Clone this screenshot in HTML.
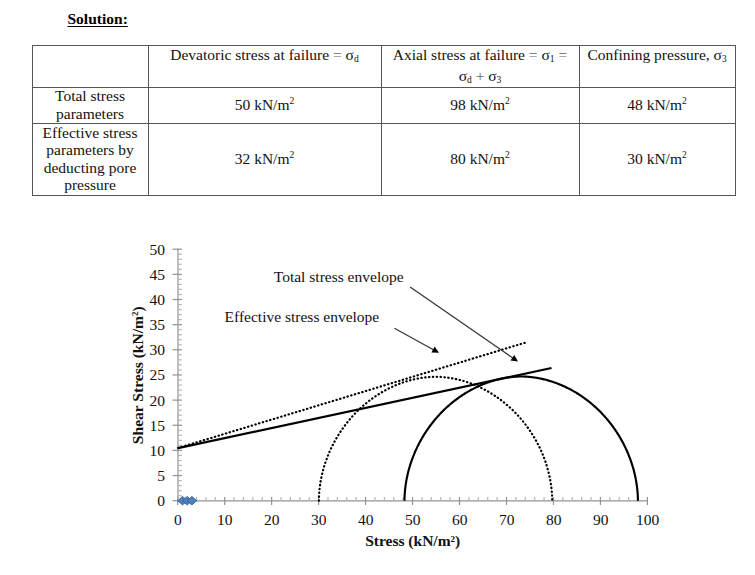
<!DOCTYPE html>
<html><head><meta charset="utf-8"><style>
html,body{margin:0;padding:0;background:#fff;width:755px;height:575px;overflow:hidden;position:relative}
.vl{position:absolute;width:1px;background:#555}
.hl{position:absolute;height:1px;background:#555}
.eq{color:#666}
.t{position:absolute;text-align:center;font-family:"Liberation Serif",serif;font-size:15.5px;line-height:18px;white-space:nowrap;color:#111;transform:scaleX(1.0)}
sub{font-size:9.5px;vertical-align:baseline;position:relative;top:2.5px}
sup{font-size:9.5px;vertical-align:baseline;position:relative;top:-6.3px}
.sol{position:absolute;left:67.5px;top:10px;font-family:"Liberation Serif",serif;font-weight:bold;font-size:15.5px;line-height:18px;text-decoration:underline;text-decoration-thickness:1.3px;text-underline-offset:1.8px;transform:scaleX(1.0);transform-origin:0 0}
</style></head><body>
<div class="sol">Solution:</div>
<div class="vl" style="left:32px;top:45px;height:151px"></div><div class="vl" style="left:148px;top:45px;height:151px"></div><div class="vl" style="left:381px;top:45px;height:151px"></div><div class="vl" style="left:579px;top:45px;height:151px"></div><div class="vl" style="left:735px;top:45px;height:151px"></div><div class="hl" style="left:32px;top:45px;width:704px"></div><div class="hl" style="left:32px;top:87px;width:704px"></div><div class="hl" style="left:32px;top:123px;width:704px"></div><div class="hl" style="left:32px;top:195px;width:704px"></div>
<div class="t" style="left:148px;width:233px;top:45.9px">Devatoric stress at failure <span class="eq">=</span> <span class="sg">σ</span><sub>d</sub></div><div class="t" style="left:381px;width:198px;top:45.7px">Axial stress at failure <span class="eq">=</span> <span class="sg">σ</span><sub>1</sub> <span class="eq">=</span></div><div class="t" style="left:381px;width:198px;top:66.6px"><span class="sg">σ</span><sub>d</sub> <span class="eq">+</span> <span class="sg">σ</span><sub>3</sub></div><div class="t" style="left:579px;width:156px;top:45.7px">Confining pressure, <span class="sg">σ</span><sub>3</sub></div><div class="t" style="left:32px;width:116px;top:86.9px">Total stress</div><div class="t" style="left:32px;width:116px;top:104.9px">parameters</div><div class="t" style="left:148px;width:233px;top:95.9px">50 kN/m<sup>2</sup></div><div class="t" style="left:381px;width:198px;top:95.9px">98 kN/m<sup>2</sup></div><div class="t" style="left:579px;width:156px;top:95.9px">48 kN/m<sup>2</sup></div><div class="t" style="left:32px;width:116px;top:123.6px">Effective stress</div><div class="t" style="left:32px;width:116px;top:141.2px">parameters by</div><div class="t" style="left:32px;width:116px;top:158.7px">deducting pore</div><div class="t" style="left:32px;width:116px;top:176.3px">pressure</div><div class="t" style="left:148px;width:233px;top:150.3px">32 kN/m<sup>2</sup></div><div class="t" style="left:381px;width:198px;top:150.3px">80 kN/m<sup>2</sup></div><div class="t" style="left:579px;width:156px;top:150.3px">30 kN/m<sup>2</sup></div>
<svg width="755" height="575" style="position:absolute;left:0;top:0"><g stroke="#939393" stroke-width="1.2"><line x1="178" y1="248.70" x2="178" y2="501.20" /><line x1="172.5" y1="500.70" x2="182" y2="500.70" /><line x1="178.6" y1="495.67" x2="181.8" y2="495.67" stroke="#b4b4b4" /><line x1="178.6" y1="490.64" x2="181.8" y2="490.64" stroke="#b4b4b4" /><line x1="178.6" y1="485.61" x2="181.8" y2="485.61" stroke="#b4b4b4" /><line x1="178.6" y1="480.58" x2="181.8" y2="480.58" stroke="#b4b4b4" /><line x1="172.5" y1="475.55" x2="182" y2="475.55" /><line x1="178.6" y1="470.52" x2="181.8" y2="470.52" stroke="#b4b4b4" /><line x1="178.6" y1="465.49" x2="181.8" y2="465.49" stroke="#b4b4b4" /><line x1="178.6" y1="460.46" x2="181.8" y2="460.46" stroke="#b4b4b4" /><line x1="178.6" y1="455.43" x2="181.8" y2="455.43" stroke="#b4b4b4" /><line x1="172.5" y1="450.40" x2="182" y2="450.40" /><line x1="178.6" y1="445.37" x2="181.8" y2="445.37" stroke="#b4b4b4" /><line x1="178.6" y1="440.34" x2="181.8" y2="440.34" stroke="#b4b4b4" /><line x1="178.6" y1="435.31" x2="181.8" y2="435.31" stroke="#b4b4b4" /><line x1="178.6" y1="430.28" x2="181.8" y2="430.28" stroke="#b4b4b4" /><line x1="172.5" y1="425.25" x2="182" y2="425.25" /><line x1="178.6" y1="420.22" x2="181.8" y2="420.22" stroke="#b4b4b4" /><line x1="178.6" y1="415.19" x2="181.8" y2="415.19" stroke="#b4b4b4" /><line x1="178.6" y1="410.16" x2="181.8" y2="410.16" stroke="#b4b4b4" /><line x1="178.6" y1="405.13" x2="181.8" y2="405.13" stroke="#b4b4b4" /><line x1="172.5" y1="400.10" x2="182" y2="400.10" /><line x1="178.6" y1="395.07" x2="181.8" y2="395.07" stroke="#b4b4b4" /><line x1="178.6" y1="390.04" x2="181.8" y2="390.04" stroke="#b4b4b4" /><line x1="178.6" y1="385.01" x2="181.8" y2="385.01" stroke="#b4b4b4" /><line x1="178.6" y1="379.98" x2="181.8" y2="379.98" stroke="#b4b4b4" /><line x1="172.5" y1="374.95" x2="182" y2="374.95" /><line x1="178.6" y1="369.92" x2="181.8" y2="369.92" stroke="#b4b4b4" /><line x1="178.6" y1="364.89" x2="181.8" y2="364.89" stroke="#b4b4b4" /><line x1="178.6" y1="359.86" x2="181.8" y2="359.86" stroke="#b4b4b4" /><line x1="178.6" y1="354.83" x2="181.8" y2="354.83" stroke="#b4b4b4" /><line x1="172.5" y1="349.80" x2="182" y2="349.80" /><line x1="178.6" y1="344.77" x2="181.8" y2="344.77" stroke="#b4b4b4" /><line x1="178.6" y1="339.74" x2="181.8" y2="339.74" stroke="#b4b4b4" /><line x1="178.6" y1="334.71" x2="181.8" y2="334.71" stroke="#b4b4b4" /><line x1="178.6" y1="329.68" x2="181.8" y2="329.68" stroke="#b4b4b4" /><line x1="172.5" y1="324.65" x2="182" y2="324.65" /><line x1="178.6" y1="319.62" x2="181.8" y2="319.62" stroke="#b4b4b4" /><line x1="178.6" y1="314.59" x2="181.8" y2="314.59" stroke="#b4b4b4" /><line x1="178.6" y1="309.56" x2="181.8" y2="309.56" stroke="#b4b4b4" /><line x1="178.6" y1="304.53" x2="181.8" y2="304.53" stroke="#b4b4b4" /><line x1="172.5" y1="299.50" x2="182" y2="299.50" /><line x1="178.6" y1="294.47" x2="181.8" y2="294.47" stroke="#b4b4b4" /><line x1="178.6" y1="289.44" x2="181.8" y2="289.44" stroke="#b4b4b4" /><line x1="178.6" y1="284.41" x2="181.8" y2="284.41" stroke="#b4b4b4" /><line x1="178.6" y1="279.38" x2="181.8" y2="279.38" stroke="#b4b4b4" /><line x1="172.5" y1="274.35" x2="182" y2="274.35" /><line x1="178.6" y1="269.32" x2="181.8" y2="269.32" stroke="#b4b4b4" /><line x1="178.6" y1="264.29" x2="181.8" y2="264.29" stroke="#b4b4b4" /><line x1="178.6" y1="259.26" x2="181.8" y2="259.26" stroke="#b4b4b4" /><line x1="178.6" y1="254.23" x2="181.8" y2="254.23" stroke="#b4b4b4" /><line x1="172.5" y1="249.20" x2="182" y2="249.20" /><line x1="177.20" y1="500.8" x2="647.90" y2="500.8" /><line x1="177.70" y1="497" x2="177.70" y2="505" /><line x1="187.09" y1="497" x2="187.09" y2="500.2" stroke="#b4b4b4" /><line x1="196.49" y1="497" x2="196.49" y2="500.2" stroke="#b4b4b4" /><line x1="205.88" y1="497" x2="205.88" y2="500.2" stroke="#b4b4b4" /><line x1="215.28" y1="497" x2="215.28" y2="500.2" stroke="#b4b4b4" /><line x1="224.67" y1="497" x2="224.67" y2="505" /><line x1="234.06" y1="497" x2="234.06" y2="500.2" stroke="#b4b4b4" /><line x1="243.46" y1="497" x2="243.46" y2="500.2" stroke="#b4b4b4" /><line x1="252.85" y1="497" x2="252.85" y2="500.2" stroke="#b4b4b4" /><line x1="262.25" y1="497" x2="262.25" y2="500.2" stroke="#b4b4b4" /><line x1="271.64" y1="497" x2="271.64" y2="505" /><line x1="281.03" y1="497" x2="281.03" y2="500.2" stroke="#b4b4b4" /><line x1="290.43" y1="497" x2="290.43" y2="500.2" stroke="#b4b4b4" /><line x1="299.82" y1="497" x2="299.82" y2="500.2" stroke="#b4b4b4" /><line x1="309.22" y1="497" x2="309.22" y2="500.2" stroke="#b4b4b4" /><line x1="318.61" y1="497" x2="318.61" y2="505" /><line x1="328.00" y1="497" x2="328.00" y2="500.2" stroke="#b4b4b4" /><line x1="337.40" y1="497" x2="337.40" y2="500.2" stroke="#b4b4b4" /><line x1="346.79" y1="497" x2="346.79" y2="500.2" stroke="#b4b4b4" /><line x1="356.19" y1="497" x2="356.19" y2="500.2" stroke="#b4b4b4" /><line x1="365.58" y1="497" x2="365.58" y2="505" /><line x1="374.97" y1="497" x2="374.97" y2="500.2" stroke="#b4b4b4" /><line x1="384.37" y1="497" x2="384.37" y2="500.2" stroke="#b4b4b4" /><line x1="393.76" y1="497" x2="393.76" y2="500.2" stroke="#b4b4b4" /><line x1="403.16" y1="497" x2="403.16" y2="500.2" stroke="#b4b4b4" /><line x1="412.55" y1="497" x2="412.55" y2="505" /><line x1="421.94" y1="497" x2="421.94" y2="500.2" stroke="#b4b4b4" /><line x1="431.34" y1="497" x2="431.34" y2="500.2" stroke="#b4b4b4" /><line x1="440.73" y1="497" x2="440.73" y2="500.2" stroke="#b4b4b4" /><line x1="450.13" y1="497" x2="450.13" y2="500.2" stroke="#b4b4b4" /><line x1="459.52" y1="497" x2="459.52" y2="505" /><line x1="468.91" y1="497" x2="468.91" y2="500.2" stroke="#b4b4b4" /><line x1="478.31" y1="497" x2="478.31" y2="500.2" stroke="#b4b4b4" /><line x1="487.70" y1="497" x2="487.70" y2="500.2" stroke="#b4b4b4" /><line x1="497.10" y1="497" x2="497.10" y2="500.2" stroke="#b4b4b4" /><line x1="506.49" y1="497" x2="506.49" y2="505" /><line x1="515.88" y1="497" x2="515.88" y2="500.2" stroke="#b4b4b4" /><line x1="525.28" y1="497" x2="525.28" y2="500.2" stroke="#b4b4b4" /><line x1="534.67" y1="497" x2="534.67" y2="500.2" stroke="#b4b4b4" /><line x1="544.07" y1="497" x2="544.07" y2="500.2" stroke="#b4b4b4" /><line x1="553.46" y1="497" x2="553.46" y2="505" /><line x1="562.85" y1="497" x2="562.85" y2="500.2" stroke="#b4b4b4" /><line x1="572.25" y1="497" x2="572.25" y2="500.2" stroke="#b4b4b4" /><line x1="581.64" y1="497" x2="581.64" y2="500.2" stroke="#b4b4b4" /><line x1="591.04" y1="497" x2="591.04" y2="500.2" stroke="#b4b4b4" /><line x1="600.43" y1="497" x2="600.43" y2="505" /><line x1="609.82" y1="497" x2="609.82" y2="500.2" stroke="#b4b4b4" /><line x1="619.22" y1="497" x2="619.22" y2="500.2" stroke="#b4b4b4" /><line x1="628.61" y1="497" x2="628.61" y2="500.2" stroke="#b4b4b4" /><line x1="638.01" y1="497" x2="638.01" y2="500.2" stroke="#b4b4b4" /><line x1="647.40" y1="497" x2="647.40" y2="505" /></g><path d="M318.90,500.70 L318.90,499.81 L318.92,498.87 L318.94,497.91 L318.97,496.94 L319.02,495.96 L319.07,494.97 L319.13,493.97 L319.20,492.96 L319.27,491.96 L319.36,490.95 L319.46,489.93 L319.57,488.91 L319.68,487.89 L319.81,486.87 L319.94,485.84 L320.08,484.82 L320.23,483.79 L320.40,482.76 L320.57,481.73 L320.75,480.70 L320.93,479.67 L321.13,478.64 L321.34,477.60 L321.55,476.57 L321.78,475.54 L322.01,474.51 L322.26,473.48 L322.51,472.45 L322.77,471.42 L323.04,470.39 L323.32,469.36 L323.60,468.33 L323.90,467.31 L324.20,466.28 L324.52,465.26 L324.84,464.24 L325.17,463.22 L325.51,462.20 L325.86,461.19 L326.22,460.18 L326.58,459.17 L326.96,458.16 L327.34,457.15 L327.73,456.15 L328.13,455.15 L328.54,454.15 L328.96,453.15 L329.39,452.16 L329.82,451.17 L330.26,450.18 L330.71,449.20 L331.17,448.22 L331.64,447.24 L332.11,446.27 L332.60,445.30 L333.09,444.34 L333.59,443.37 L334.09,442.42 L334.61,441.46 L335.13,440.51 L335.66,439.57 L336.20,438.63 L336.75,437.69 L337.30,436.76 L337.86,435.83 L338.43,434.91 L339.01,433.99 L339.60,433.07 L340.19,432.16 L340.79,431.26 L341.39,430.36 L342.01,429.47 L342.63,428.58 L343.26,427.70 L343.89,426.82 L344.54,425.95 L345.19,425.08 L345.84,424.22 L346.51,423.36 L347.18,422.51 L347.86,421.67 L348.54,420.83 L349.23,420.00 L349.93,419.17 L350.63,418.35 L351.34,417.54 L352.06,416.73 L352.78,415.93 L353.51,415.13 L354.25,414.35 L354.99,413.56 L355.74,412.79 L356.49,412.02 L357.25,411.26 L358.02,410.50 L358.79,409.76 L359.57,409.02 L360.35,408.28 L361.14,407.55 L361.94,406.84 L362.74,406.12 L363.54,405.42 L364.35,404.72 L365.17,404.03 L365.99,403.35 L366.82,402.67 L367.65,402.00 L368.49,401.34 L369.33,400.69 L370.17,400.05 L371.03,399.41 L371.88,398.78 L372.74,398.16 L373.61,397.55 L374.48,396.94 L375.35,396.35 L376.23,395.76 L377.11,395.18 L378.00,394.60 L378.89,394.04 L379.78,393.49 L380.68,392.94 L381.58,392.40 L382.48,391.87 L383.39,391.35 L384.31,390.83 L385.22,390.33 L386.14,389.83 L387.06,389.35 L387.99,388.87 L388.92,388.40 L389.85,387.94 L390.78,387.49 L391.72,387.04 L392.66,386.61 L393.60,386.18 L394.55,385.77 L395.50,385.36 L396.45,384.96 L397.40,384.57 L398.35,384.19 L399.31,383.82 L400.27,383.46 L401.22,383.11 L402.19,382.77 L403.15,382.43 L404.11,382.11 L405.08,381.80 L406.04,381.49 L407.01,381.19 L407.98,380.91 L408.95,380.63 L409.92,380.36 L410.89,380.11 L411.86,379.86 L412.83,379.62 L413.81,379.39 L414.78,379.17 L415.75,378.96 L416.72,378.76 L417.69,378.57 L418.66,378.39 L419.63,378.22 L420.60,378.06 L421.56,377.90 L422.53,377.76 L423.49,377.63 L424.45,377.51 L425.41,377.39 L426.37,377.29 L427.32,377.20 L428.27,377.11 L429.21,377.04 L430.15,376.98 L431.08,376.92 L432.01,376.88 L432.93,376.84 L433.83,376.82 L434.71,376.80 L435.55,376.80 L436.39,376.80 L437.27,376.82 L438.17,376.84 L439.09,376.88 L440.02,376.92 L440.95,376.98 L441.89,377.04 L442.83,377.11 L443.78,377.20 L444.73,377.29 L445.69,377.39 L446.65,377.51 L447.61,377.63 L448.57,377.76 L449.54,377.90 L450.50,378.06 L451.47,378.22 L452.44,378.39 L453.41,378.57 L454.38,378.76 L455.35,378.96 L456.32,379.17 L457.29,379.39 L458.27,379.62 L459.24,379.86 L460.21,380.11 L461.18,380.36 L462.15,380.63 L463.12,380.91 L464.09,381.19 L465.06,381.49 L466.02,381.80 L466.99,382.11 L467.95,382.43 L468.91,382.77 L469.88,383.11 L470.83,383.46 L471.79,383.82 L472.75,384.19 L473.70,384.57 L474.65,384.96 L475.60,385.36 L476.55,385.77 L477.50,386.18 L478.44,386.61 L479.38,387.04 L480.32,387.49 L481.25,387.94 L482.18,388.40 L483.11,388.87 L484.04,389.35 L484.96,389.83 L485.88,390.33 L486.79,390.83 L487.71,391.35 L488.62,391.87 L489.52,392.40 L490.42,392.94 L491.32,393.49 L492.21,394.04 L493.10,394.60 L493.99,395.18 L494.87,395.76 L495.75,396.35 L496.62,396.94 L497.49,397.55 L498.36,398.16 L499.22,398.78 L500.07,399.41 L500.93,400.05 L501.77,400.69 L502.61,401.34 L503.45,402.00 L504.28,402.67 L505.11,403.35 L505.93,404.03 L506.75,404.72 L507.56,405.42 L508.36,406.12 L509.16,406.84 L509.96,407.55 L510.75,408.28 L511.53,409.02 L512.31,409.76 L513.08,410.50 L513.85,411.26 L514.61,412.02 L515.36,412.79 L516.11,413.56 L516.85,414.35 L517.59,415.13 L518.32,415.93 L519.04,416.73 L519.76,417.54 L520.47,418.35 L521.17,419.17 L521.87,420.00 L522.56,420.83 L523.24,421.67 L523.92,422.51 L524.59,423.36 L525.26,424.22 L525.91,425.08 L526.56,425.95 L527.21,426.82 L527.84,427.70 L528.47,428.58 L529.09,429.47 L529.71,430.36 L530.31,431.26 L530.91,432.16 L531.50,433.07 L532.09,433.99 L532.67,434.91 L533.24,435.83 L533.80,436.76 L534.35,437.69 L534.90,438.63 L535.44,439.57 L535.97,440.51 L536.49,441.46 L537.01,442.42 L537.51,443.37 L538.01,444.34 L538.50,445.30 L538.99,446.27 L539.46,447.24 L539.93,448.22 L540.39,449.20 L540.84,450.18 L541.28,451.17 L541.71,452.16 L542.14,453.15 L542.56,454.15 L542.97,455.15 L543.37,456.15 L543.76,457.15 L544.14,458.16 L544.52,459.17 L544.88,460.18 L545.24,461.19 L545.59,462.20 L545.93,463.22 L546.26,464.24 L546.58,465.26 L546.90,466.28 L547.20,467.31 L547.50,468.33 L547.78,469.36 L548.06,470.39 L548.33,471.42 L548.59,472.45 L548.84,473.48 L549.09,474.51 L549.32,475.54 L549.55,476.57 L549.76,477.60 L549.97,478.64 L550.17,479.67 L550.35,480.70 L550.53,481.73 L550.70,482.76 L550.87,483.79 L551.02,484.82 L551.16,485.84 L551.29,486.87 L551.42,487.89 L551.53,488.91 L551.64,489.93 L551.74,490.95 L551.83,491.96 L551.90,492.96 L551.97,493.97 L552.03,494.97 L552.08,495.96 L552.13,496.94 L552.16,497.91 L552.18,498.87 L552.20,499.81 L552.20,500.70" fill="none" stroke="#000" stroke-width="2.2" stroke-dasharray="0.4 3.45" stroke-linecap="round" /><path d="M404.50,500.70 L404.50,499.81 L404.52,498.87 L404.54,497.91 L404.57,496.93 L404.62,495.95 L404.67,494.95 L404.73,493.95 L404.80,492.95 L404.87,491.94 L404.96,490.92 L405.06,489.90 L405.17,488.88 L405.28,487.86 L405.41,486.83 L405.54,485.81 L405.68,484.78 L405.83,483.75 L406.00,482.72 L406.17,481.68 L406.35,480.65 L406.53,479.62 L406.73,478.58 L406.94,477.55 L407.16,476.51 L407.38,475.48 L407.61,474.44 L407.86,473.41 L408.11,472.38 L408.37,471.35 L408.64,470.31 L408.92,469.28 L409.21,468.26 L409.50,467.23 L409.81,466.20 L410.12,465.18 L410.44,464.15 L410.78,463.13 L411.12,462.11 L411.46,461.09 L411.82,460.08 L412.19,459.06 L412.56,458.05 L412.95,457.05 L413.34,456.04 L413.74,455.04 L414.15,454.03 L414.56,453.04 L414.99,452.04 L415.42,451.05 L415.87,450.06 L416.32,449.08 L416.78,448.09 L417.24,447.11 L417.72,446.14 L418.20,445.17 L418.69,444.20 L419.19,443.24 L419.70,442.28 L420.22,441.32 L420.74,440.37 L421.27,439.42 L421.81,438.48 L422.36,437.54 L422.91,436.60 L423.47,435.67 L424.04,434.75 L424.62,433.83 L425.20,432.91 L425.80,432.00 L426.40,431.09 L427.00,430.19 L427.62,429.30 L428.24,428.40 L428.87,427.52 L429.50,426.64 L430.15,425.76 L430.80,424.90 L431.45,424.03 L432.12,423.17 L432.79,422.32 L433.47,421.48 L434.15,420.64 L434.84,419.80 L435.54,418.97 L436.25,418.15 L436.96,417.34 L437.67,416.53 L438.40,415.72 L439.13,414.93 L439.86,414.14 L440.61,413.35 L441.35,412.58 L442.11,411.81 L442.87,411.04 L443.64,410.29 L444.41,409.54 L445.19,408.79 L445.97,408.06 L446.76,407.33 L447.56,406.61 L448.36,405.89 L449.16,405.19 L449.97,404.49 L450.79,403.80 L451.61,403.11 L452.44,402.43 L453.27,401.77 L454.11,401.10 L454.95,400.45 L455.80,399.80 L456.65,399.17 L457.50,398.53 L458.36,397.91 L459.23,397.30 L460.10,396.69 L460.97,396.09 L461.85,395.50 L462.73,394.92 L463.62,394.35 L464.51,393.78 L465.41,393.23 L466.30,392.68 L467.21,392.14 L468.11,391.61 L469.02,391.08 L469.93,390.57 L470.85,390.06 L471.77,389.56 L472.69,389.08 L473.62,388.60 L474.55,388.13 L475.48,387.66 L476.41,387.21 L477.35,386.77 L478.29,386.33 L479.24,385.91 L480.18,385.49 L481.13,385.08 L482.08,384.68 L483.03,384.29 L483.99,383.91 L484.94,383.54 L485.90,383.18 L486.86,382.83 L487.82,382.48 L488.78,382.15 L489.75,381.82 L490.71,381.51 L491.68,381.20 L492.65,380.91 L493.62,380.62 L494.59,380.34 L495.56,380.07 L496.53,379.81 L497.50,379.57 L498.47,379.33 L499.45,379.10 L500.42,378.88 L501.39,378.67 L502.36,378.46 L503.33,378.27 L504.30,378.09 L505.27,377.92 L506.24,377.76 L507.21,377.61 L508.17,377.46 L509.14,377.33 L510.10,377.21 L511.06,377.10 L512.01,376.99 L512.97,376.90 L513.91,376.82 L514.86,376.74 L515.80,376.68 L516.73,376.62 L517.66,376.58 L518.58,376.54 L519.48,376.52 L520.36,376.50 L521.20,376.50 L522.04,376.50 L522.92,376.52 L523.82,376.54 L524.74,376.58 L525.67,376.62 L526.60,376.68 L527.54,376.74 L528.49,376.82 L529.43,376.90 L530.39,376.99 L531.34,377.10 L532.30,377.21 L533.26,377.33 L534.23,377.46 L535.19,377.61 L536.16,377.76 L537.13,377.92 L538.10,378.09 L539.07,378.27 L540.04,378.46 L541.01,378.67 L541.98,378.88 L542.95,379.10 L543.93,379.33 L544.90,379.57 L545.87,379.81 L546.84,380.07 L547.81,380.34 L548.78,380.62 L549.75,380.91 L550.72,381.20 L551.69,381.51 L552.65,381.82 L553.62,382.15 L554.58,382.48 L555.54,382.83 L556.50,383.18 L557.46,383.54 L558.41,383.91 L559.37,384.29 L560.32,384.68 L561.27,385.08 L562.22,385.49 L563.16,385.91 L564.11,386.33 L565.05,386.77 L565.99,387.21 L566.92,387.66 L567.85,388.13 L568.78,388.60 L569.71,389.08 L570.63,389.56 L571.55,390.06 L572.47,390.57 L573.38,391.08 L574.29,391.61 L575.19,392.14 L576.10,392.68 L576.99,393.23 L577.89,393.78 L578.78,394.35 L579.67,394.92 L580.55,395.50 L581.43,396.09 L582.30,396.69 L583.17,397.30 L584.04,397.91 L584.90,398.53 L585.75,399.17 L586.60,399.80 L587.45,400.45 L588.29,401.10 L589.13,401.77 L589.96,402.43 L590.79,403.11 L591.61,403.80 L592.43,404.49 L593.24,405.19 L594.04,405.89 L594.84,406.61 L595.64,407.33 L596.43,408.06 L597.21,408.79 L597.99,409.54 L598.76,410.29 L599.53,411.04 L600.29,411.81 L601.05,412.58 L601.79,413.35 L602.54,414.14 L603.27,414.93 L604.00,415.72 L604.73,416.53 L605.44,417.34 L606.15,418.15 L606.86,418.97 L607.56,419.80 L608.25,420.64 L608.93,421.48 L609.61,422.32 L610.28,423.17 L610.95,424.03 L611.60,424.90 L612.25,425.76 L612.90,426.64 L613.53,427.52 L614.16,428.40 L614.78,429.30 L615.40,430.19 L616.00,431.09 L616.60,432.00 L617.20,432.91 L617.78,433.83 L618.36,434.75 L618.93,435.67 L619.49,436.60 L620.04,437.54 L620.59,438.48 L621.13,439.42 L621.66,440.37 L622.18,441.32 L622.70,442.28 L623.21,443.24 L623.71,444.20 L624.20,445.17 L624.68,446.14 L625.16,447.11 L625.62,448.09 L626.08,449.08 L626.53,450.06 L626.98,451.05 L627.41,452.04 L627.84,453.04 L628.25,454.03 L628.66,455.04 L629.06,456.04 L629.45,457.05 L629.84,458.05 L630.21,459.06 L630.58,460.08 L630.94,461.09 L631.28,462.11 L631.62,463.13 L631.96,464.15 L632.28,465.18 L632.59,466.20 L632.90,467.23 L633.19,468.26 L633.48,469.28 L633.76,470.31 L634.03,471.35 L634.29,472.38 L634.54,473.41 L634.79,474.44 L635.02,475.48 L635.24,476.51 L635.46,477.55 L635.67,478.58 L635.87,479.62 L636.05,480.65 L636.23,481.68 L636.40,482.72 L636.57,483.75 L636.72,484.78 L636.86,485.81 L636.99,486.83 L637.12,487.86 L637.23,488.88 L637.34,489.90 L637.44,490.92 L637.53,491.94 L637.60,492.95 L637.67,493.95 L637.73,494.95 L637.78,495.95 L637.83,496.93 L637.86,497.91 L637.88,498.87 L637.90,499.81 L637.90,500.70" fill="none" stroke="#000" stroke-width="2.15" /><line x1="178" y1="448.0" x2="526.8" y2="342.2" stroke="#000" stroke-width="2.2" stroke-dasharray="0.4 3.45" stroke-linecap="round" /><line x1="178" y1="448.1" x2="551.5" y2="368.0" stroke="#000" stroke-width="2.3" /><g fill="#4f81bd" stroke="#30609c" stroke-width="0.9"><path d="M177.70,500.70 L182.50,496.45 L187.30,500.70 L182.50,504.95 Z" /><path d="M182.39,500.70 L187.19,496.45 L191.99,500.70 L187.19,504.95 Z" /><path d="M187.09,500.70 L191.89,496.45 L196.69,500.70 L191.89,504.95 Z" /></g><line x1="410.1" y1="287.1" x2="513.23" y2="358.30" stroke="#333" stroke-width="1.2" /><path d="M518.0,361.6 L510.47,360.53 L514.34,354.94 Z" fill="#000" /><line x1="394.4" y1="328.3" x2="433.92" y2="350.01" stroke="#333" stroke-width="1.2" /><path d="M439.0,352.8 L431.40,352.51 L434.68,346.55 Z" fill="#000" /><g font-family="Liberation Serif" font-size="15.5" fill="#111"><text transform="translate(165.00,506.10) scale(1.0,1)" text-anchor="end" >0</text><text transform="translate(165.00,480.95) scale(1.0,1)" text-anchor="end" >5</text><text transform="translate(165.00,455.80) scale(1.0,1)" text-anchor="end" >10</text><text transform="translate(165.00,430.65) scale(1.0,1)" text-anchor="end" >15</text><text transform="translate(165.00,405.50) scale(1.0,1)" text-anchor="end" >20</text><text transform="translate(165.00,380.35) scale(1.0,1)" text-anchor="end" >25</text><text transform="translate(165.00,355.20) scale(1.0,1)" text-anchor="end" >30</text><text transform="translate(165.00,330.05) scale(1.0,1)" text-anchor="end" >35</text><text transform="translate(165.00,304.90) scale(1.0,1)" text-anchor="end" >40</text><text transform="translate(165.00,279.75) scale(1.0,1)" text-anchor="end" >45</text><text transform="translate(165.00,254.60) scale(1.0,1)" text-anchor="end" >50</text><text transform="translate(177.90,524.80) scale(1.0,1)" text-anchor="middle" >0</text><text transform="translate(224.87,524.80) scale(1.0,1)" text-anchor="middle" >10</text><text transform="translate(271.84,524.80) scale(1.0,1)" text-anchor="middle" >20</text><text transform="translate(318.81,524.80) scale(1.0,1)" text-anchor="middle" >30</text><text transform="translate(365.78,524.80) scale(1.0,1)" text-anchor="middle" >40</text><text transform="translate(412.75,524.80) scale(1.0,1)" text-anchor="middle" >50</text><text transform="translate(459.72,524.80) scale(1.0,1)" text-anchor="middle" >60</text><text transform="translate(506.69,524.80) scale(1.0,1)" text-anchor="middle" >70</text><text transform="translate(553.66,524.80) scale(1.0,1)" text-anchor="middle" >80</text><text transform="translate(600.63,524.80) scale(1.0,1)" text-anchor="middle" >90</text><text transform="translate(647.60,524.80) scale(1.0,1)" text-anchor="middle" >100</text></g><g font-family="Liberation Serif" font-size="15.5" fill="#111"><text transform="translate(273.80,281.90) scale(1.0,1)" text-anchor="start" >Total stress envelope</text><text transform="translate(224.60,321.80) scale(1.0,1)" text-anchor="start" >Effective stress envelope</text></g><g font-family="Liberation Serif" font-size="15.5" font-weight="bold" fill="#111">
<text transform="translate(412.7,546.3) scale(1.0,1)" text-anchor="middle">Stress (kN/m<tspan font-size="9" dy="-4.8">2</tspan><tspan dy="4.8">)</tspan></text>
<text transform="translate(142.6,375.2) rotate(-90) scale(1.005,1.0)" text-anchor="middle">Shear Stress (kN/m<tspan font-size="9" dy="-4.8">2</tspan><tspan dy="4.8">)</tspan></text>
</g></svg>
</body></html>
